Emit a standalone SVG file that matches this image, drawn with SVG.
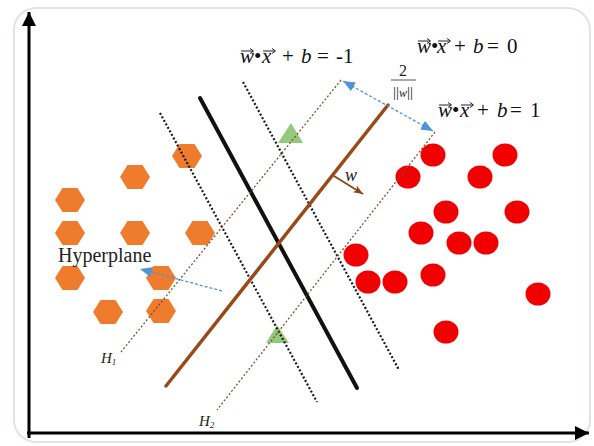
<svg xmlns="http://www.w3.org/2000/svg" width="594" height="446" viewBox="0 0 594 446">
<defs>
<style>
.hex{fill:#ef7b2c}
.dot{fill:#f00000}
.tri{fill:#93c97c}
.blk{stroke:#1a1a1a;stroke-width:2.2;stroke-dasharray:2 2;fill:none}
.brn{stroke:#85502e;stroke-width:1.3;stroke-dasharray:2 2;fill:none}
.blu{stroke:#4f94d4;stroke-width:1.3;stroke-dasharray:3 2;fill:none}
.eq{font-family:"Liberation Serif",serif;font-size:21px;fill:#111}
.it{font-style:italic}
.va{stroke:#222;stroke-width:1;fill:none}
.lbl{font-family:"Liberation Serif",serif;fill:#222}
</style>
<marker id="blueHead" viewBox="0 0 12 10" refX="12" refY="5" markerWidth="12" markerHeight="10" markerUnits="userSpaceOnUse" orient="auto-start-reverse">
<path d="M0,0 L12,5 L0,10 Z" fill="#4f94d4"/>
</marker>
<marker id="brownHead" viewBox="0 0 10 8" refX="10" refY="4" markerWidth="10" markerHeight="8" markerUnits="userSpaceOnUse" orient="auto">
<path d="M0,0 L10,4 L0,8 L3,4 Z" fill="#8b4513"/>
</marker>
<marker id="axisHead" viewBox="0 0 14 14" refX="14" refY="7" markerWidth="14" markerHeight="14" markerUnits="userSpaceOnUse" orient="auto">
<path d="M0,0 L14,7 L0,14 Z" fill="#000"/>
</marker>
<polygon id="hx" points="-15,0 -7.5,-12 7.5,-12 15,0 7.5,12 -7.5,12"/>
<path id="vecArrow" class="va" d="M0,0 H12 M9,-2.5 L12.5,0 L9,2.5"/>
</defs>
<rect width="594" height="446" fill="#fff"/>
<rect x="14" y="8" width="576" height="434" rx="22" fill="#fff" stroke="#dde5e5" stroke-width="2"/>

<g id="axes">
<line x1="29" y1="438" x2="29" y2="12" stroke="#000" stroke-width="3" marker-end="url(#axisHead)"/>
<line x1="27" y1="433" x2="589" y2="433" stroke="#000" stroke-width="3" marker-end="url(#axisHead)"/>
</g>

<g id="class-hexagons" class="hex">
<use href="#hx" x="187" y="156"/>
<use href="#hx" x="135" y="177"/>
<use href="#hx" x="70" y="200"/>
<use href="#hx" x="70" y="233"/>
<use href="#hx" x="135" y="233"/>
<use href="#hx" x="200" y="233"/>
<use href="#hx" x="70" y="278"/>
<use href="#hx" x="161" y="278"/>
<use href="#hx" x="108" y="312"/>
<use href="#hx" x="161" y="311"/>
</g>

<g id="class-circles" class="dot">
<ellipse cx="433" cy="155" rx="12.5" ry="11.5"/>
<ellipse cx="505" cy="155" rx="12.5" ry="11.5"/>
<ellipse cx="408" cy="177" rx="12.5" ry="11.5"/>
<ellipse cx="480" cy="177" rx="12.5" ry="11.5"/>
<ellipse cx="446" cy="212" rx="12.5" ry="11.5"/>
<ellipse cx="517" cy="212" rx="12.5" ry="11.5"/>
<ellipse cx="421" cy="233" rx="12.5" ry="11.5"/>
<ellipse cx="459" cy="243" rx="12.5" ry="11.5"/>
<ellipse cx="486" cy="243" rx="12.5" ry="11.5"/>
<ellipse cx="356" cy="255" rx="12.5" ry="11.5"/>
<ellipse cx="368" cy="282" rx="12.5" ry="11.5"/>
<ellipse cx="395" cy="282" rx="12.5" ry="11.5"/>
<ellipse cx="433" cy="275" rx="12.5" ry="11.5"/>
<ellipse cx="538" cy="294" rx="12.5" ry="11.5"/>
<ellipse cx="446" cy="332" rx="12.5" ry="11.5"/>
</g>

<g id="support-triangles" class="tri">
<polygon points="291,123 303,143 278,143"/>
<polygon points="277,325 289,343 266,343"/>
</g>

<g id="connectors">
<line x1="160" y1="113" x2="317" y2="402" class="blk"/>
<line x1="243" y1="82" x2="399" y2="370" class="blk"/>
<line x1="200" y1="98" x2="357" y2="388" stroke="#111" stroke-width="4" stroke-linecap="round"/>
<line x1="341" y1="80" x2="121" y2="352" class="brn"/>
<line x1="435" y1="132" x2="217" y2="410" class="brn"/>
<line x1="166" y1="386" x2="388" y2="105" stroke="#9a4a18" stroke-width="3.5" stroke-linecap="round"/>
<line x1="334" y1="176" x2="363" y2="194" stroke="#8b4513" stroke-width="1.8" marker-end="url(#brownHead)"/>
<line x1="343" y1="81" x2="433" y2="131" class="blu" marker-start="url(#blueHead)" marker-end="url(#blueHead)"/>
<line x1="222" y1="291" x2="140" y2="269" class="blu" marker-end="url(#blueHead)"/>
</g>

<g id="eq-minus1">
<text class="eq" y="63"><tspan x="240" class="it">w</tspan><tspan x="254">•</tspan><tspan x="262" class="it">x</tspan><tspan x="282">+</tspan><tspan x="301" class="it">b</tspan><tspan x="317">=</tspan><tspan x="336">-1</tspan></text>
<use href="#vecArrow" x="241" y="51"/>
<use href="#vecArrow" x="263" y="51"/>
</g>
<g id="eq-zero">
<text class="eq" y="53"><tspan x="417" class="it">w</tspan><tspan x="431">•</tspan><tspan x="437" class="it">x</tspan><tspan x="454">+</tspan><tspan x="473" class="it">b</tspan><tspan x="487">=</tspan><tspan x="507">0</tspan></text>
<use href="#vecArrow" x="418" y="41"/>
<use href="#vecArrow" x="438" y="41"/>
</g>
<g id="eq-plus1">
<text class="eq" y="117"><tspan x="438" class="it">w</tspan><tspan x="452">•</tspan><tspan x="460" class="it">x</tspan><tspan x="477">+</tspan><tspan x="497" class="it">b</tspan><tspan x="510">=</tspan><tspan x="530">1</tspan></text>
<use href="#vecArrow" x="439" y="105"/>
<use href="#vecArrow" x="461" y="105"/>
</g>

<g id="margin-label">
<text class="lbl" x="403" y="76" font-size="16" text-anchor="middle">2</text>
<line x1="391" y1="80" x2="416" y2="80" stroke="#555" stroke-width="1"/>
<text class="lbl" x="403" y="97" font-size="15" text-anchor="middle" fill="#555">||<tspan font-style="italic" font-size="12">w</tspan>||</text>
</g>

<g id="w-label"><text class="lbl it" x="345" y="181" font-size="18" font-style="italic">w</text></g>
<g id="hyperplane-label"><text class="lbl" x="58" y="262" font-size="20">Hyperplane</text></g>
<g id="h1-label"><text class="lbl" x="101" y="363" font-size="15" font-style="italic">H<tspan font-size="9" dy="2">1</tspan></text></g>
<g id="h2-label"><text class="lbl" x="199" y="426" font-size="15" font-style="italic">H<tspan font-size="9" dy="2">2</tspan></text></g>
</svg>
